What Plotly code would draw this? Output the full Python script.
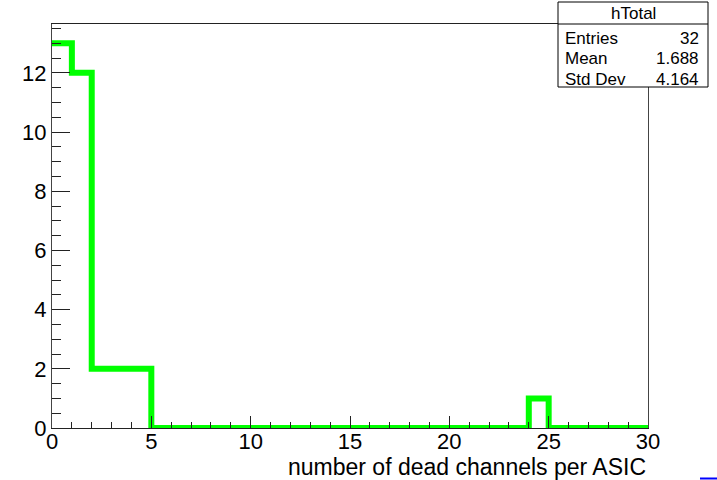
import plotly.graph_objects as go

# Histogram "hTotal": dead channels per ASIC, 30 unit-width bins on [0, 30]
bin_edges = list(range(0, 31))
counts = [13, 12, 2, 2, 2] + [0] * 19 + [1] + [0] * 5

# Statistics box contents
stats_title = "hTotal"
stats_rows = [("Entries", "32"), ("Mean", "1.688"), ("Std Dev", "4.164")]

x_title = "number of dead channels per ASIC"

W, H = 717, 480
L, R, T, B = 52, 648, 24, 428  # plot-area edges in pixels


def px(x):
    return (x - L) / (R - L)


def py(y):
    return (B - y) / (B - T)


# step outline following every bin top
xs = bin_edges
ys = counts + [counts[-1]]

fig = go.Figure()
fig.add_trace(go.Scatter(
    x=xs, y=ys, mode="lines", line=dict(color="#00ff00", width=6, shape="hv"),
    hoverinfo="skip", showlegend=False, cliponaxis=False,
))

font = "Liberation Sans, Arial, Helvetica, sans-serif"

fig.update_layout(
    width=W, height=H,
    margin=dict(l=L, r=W - R, t=T, b=H - B, pad=0),
    paper_bgcolor="white", plot_bgcolor="white",
    font=dict(family=font, color="black"),
    showlegend=False,
)

fig.update_xaxes(
    range=[0, 30], showgrid=False, zeroline=False,
    showline=True, linecolor="#222", linewidth=1, mirror=True,
    ticks="inside", ticklen=12, tickcolor="#222", tickwidth=1,
    tick0=0, dtick=5, tickfont=dict(size=22, family=font),
    ticklabelstandoff=-6,
    minor=dict(ticks="inside", ticklen=6, dtick=1, tickcolor="#222", showgrid=False),
)
fig.update_yaxes(
    range=[0, 13.65], showgrid=False, zeroline=False,
    showline=True, linecolor="#444", linewidth=1, mirror=True,
    ticks="inside", ticklen=18, tickcolor="#222", tickwidth=1,
    tick0=0, dtick=2, tickfont=dict(size=22, family=font),
    minor=dict(ticks="inside", ticklen=9, dtick=0.5, tickcolor="#222", showgrid=False),
)

# x-axis title, right-aligned to the end of the axis
fig.add_annotation(
    x=px(648), y=py(467), xref="paper", yref="paper",
    text=x_title, showarrow=False, xanchor="right", yanchor="middle",
    font=dict(size=23, family=font, color="black"),
)

# statistics box
bx0, bx1, by0, by1, by_title = 558, 708, 2, 87, 24
fig.add_shape(type="rect", xref="paper", yref="paper",
              x0=px(bx0), x1=px(bx1), y0=py(by1), y1=py(by0),
              line=dict(color="black", width=1), fillcolor="white", layer="above")
fig.add_shape(type="line", xref="paper", yref="paper",
              x0=px(bx0), x1=px(bx1), y0=py(by_title), y1=py(by_title),
              line=dict(color="black", width=1), layer="above")
fig.add_annotation(
    x=px((bx0 + bx1) / 2), y=py(14), xref="paper", yref="paper",
    text=stats_title, showarrow=False, xanchor="center", yanchor="middle",
    font=dict(size=17, family=font, color="black"),
)
row_y = [38, 59, 79]
for (label, value), yy in zip(stats_rows, row_y):
    fig.add_annotation(x=px(bx0 + 5), y=py(yy), xref="paper", yref="paper",
                       text=label, showarrow=False, xanchor="left", yanchor="middle",
                       font=dict(size=17, family=font, color="black"))
    fig.add_annotation(x=px(bx1 - 7), y=py(yy), xref="paper", yref="paper",
                       text=value, showarrow=False, xanchor="right", yanchor="middle",
                       font=dict(size=17, family=font, color="black"))

# small blue mark at the lower right corner of the canvas
fig.add_shape(type="line", xref="paper", yref="paper",
              x0=px(700), x1=px(717), y0=py(478.5), y1=py(478.5),
              line=dict(color="#0000ff", width=2))

fig.write_html("out.html")
